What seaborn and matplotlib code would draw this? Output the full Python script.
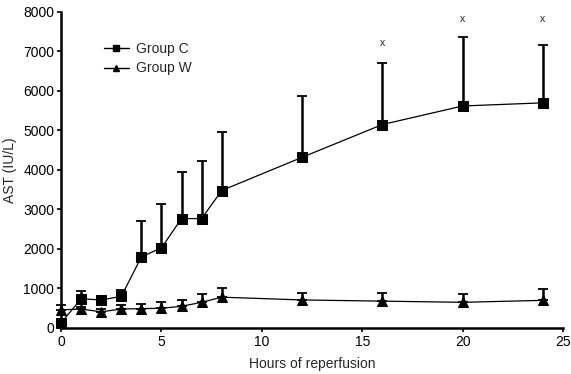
import numpy as np
import pandas as pd
import matplotlib
matplotlib.use("Agg")
import matplotlib.pyplot as plt
import seaborn as sns
from matplotlib.lines import Line2D

hours = [0, 1, 2, 3, 4, 5, 6, 7, 8, 12, 16, 20, 24]
group_c = [130, 740, 710, 800, 1800, 2030, 2770, 2770, 3480, 4320, 5150, 5620, 5700]
group_c_upper = [130, 930, 790, 950, 2720, 3150, 3960, 4230, 4960, 5880, 6720, 7360, 7160]
group_w = [460, 480, 410, 480, 490, 500, 550, 650, 780, 710, 680, 650, 700]
group_w_upper = [590, 520, 480, 590, 610, 650, 710, 860, 1010, 880, 880, 860, 980]
sig_hours = [16, 20, 24]
sig_y = [7220, 7820, 7820]

sns.set_style("ticks")
plt.rcParams['font.family'] = ['Liberation Sans', 'DejaVu Sans']

fig = plt.figure(figsize=(5.71, 3.74), dpi=100)
ax = fig.add_axes([0.107, 0.123, 0.879, 0.845])

df = pd.DataFrame({
    "Hours": hours * 2,
    "AST": group_c + group_w,
    "Group": ["Group C"] * len(hours) + ["Group W"] * len(hours),
})

sns.lineplot(data=df, x="Hours", y="AST", hue="Group", style="Group",
             markers={"Group C": "s", "Group W": "^"}, dashes=False,
             palette={"Group C": "black", "Group W": "black"},
             markersize=7.5, linewidth=0.9, markeredgecolor="black",
             ax=ax, legend=False, zorder=3, clip_on=False)

for vals, up in [(group_c, group_c_upper), (group_w, group_w_upper)]:
    v = np.array(vals)
    u = np.array(up)
    ax.errorbar(hours, v, yerr=[np.zeros_like(v), u - v], fmt="none",
                ecolor="black", elinewidth=1.8, capsize=3.5, capthick=1.3,
                zorder=2, clip_on=False)

for h, y in zip(sig_hours, sig_y):
    ax.text(h, y, "x", ha="center", va="center", fontsize=7.5)

handles = [
    Line2D([], [], color="black", marker="s", markersize=4, linewidth=1.0),
    Line2D([], [], color="black", marker="^", markersize=5, linewidth=1.0),
]
ax.legend(handles, ["Group C", "Group W"], loc="upper left",
          bbox_to_anchor=(0.06, 0.945), frameon=False, fontsize=10,
          handlelength=1.8, handletextpad=0.5, labelspacing=0.4)

ax.set_xlim(0, 25)
ax.set_ylim(0, 8000)
ax.set_xticks([0, 5, 10, 15, 20, 25])
ax.set_yticks(range(0, 8001, 1000))
ax.tick_params(labelsize=10, length=3, width=1.2, colors="black", pad=2)
ax.set_xlabel("Hours of reperfusion", fontsize=10, labelpad=6)
ax.set_ylabel("AST (IU/L)", fontsize=10, labelpad=4)
for s in ["left", "bottom"]:
    ax.spines[s].set_linewidth(1.8)
    ax.spines[s].set_color("black")
sns.despine(ax=ax)

fig.savefig("out.png", dpi=100)
